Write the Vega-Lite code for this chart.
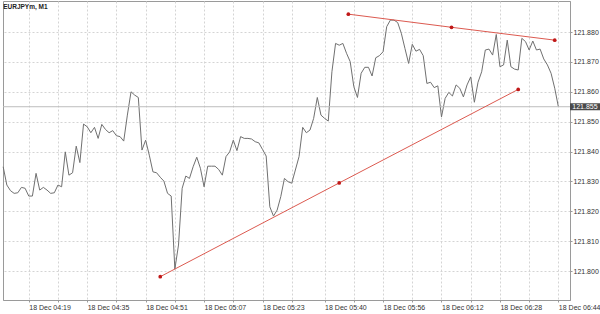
{
  "$schema": "https://vega.github.io/schema/vega-lite/v6.json",
  "width": 567,
  "height": 299,
  "autosize": {"type": "none"},
  "padding": {"left": 3, "top": 1, "right": 30, "bottom": 14},
  "background": "white",
  "config": {
    "view": {"stroke": "#9a9a9a", "strokeWidth": 1},
    "font": "Liberation Sans"
  },
  "title": {"text": "EURJPYm, M1", "anchor": "start", "orient": "top", "offset": -9, "baseline": "top", "dx": 2, "fontSize": 6.5, "fontWeight": "bold", "color": "#222", "font": "Liberation Sans"},
  "datasets": {
    "price": [
      {"t": "2019-12-18T04:12:00", "p": 121.8349},
      {"t": "2019-12-18T04:13:00", "p": 121.8288},
      {"t": "2019-12-18T04:14:00", "p": 121.8269},
      {"t": "2019-12-18T04:15:00", "p": 121.8260},
      {"t": "2019-12-18T04:16:00", "p": 121.8262},
      {"t": "2019-12-18T04:17:00", "p": 121.8280},
      {"t": "2019-12-18T04:18:00", "p": 121.8277},
      {"t": "2019-12-18T04:19:00", "p": 121.8251},
      {"t": "2019-12-18T04:20:00", "p": 121.8251},
      {"t": "2019-12-18T04:21:00", "p": 121.8327},
      {"t": "2019-12-18T04:22:00", "p": 121.8271},
      {"t": "2019-12-18T04:23:00", "p": 121.8280},
      {"t": "2019-12-18T04:24:00", "p": 121.8271},
      {"t": "2019-12-18T04:25:00", "p": 121.8260},
      {"t": "2019-12-18T04:26:00", "p": 121.8262},
      {"t": "2019-12-18T04:27:00", "p": 121.8288},
      {"t": "2019-12-18T04:28:00", "p": 121.8282},
      {"t": "2019-12-18T04:29:00", "p": 121.8399},
      {"t": "2019-12-18T04:30:00", "p": 121.8321},
      {"t": "2019-12-18T04:31:00", "p": 121.8329},
      {"t": "2019-12-18T04:32:00", "p": 121.8418},
      {"t": "2019-12-18T04:33:00", "p": 121.8363},
      {"t": "2019-12-18T04:34:00", "p": 121.8492},
      {"t": "2019-12-18T04:35:00", "p": 121.8483},
      {"t": "2019-12-18T04:36:00", "p": 121.8463},
      {"t": "2019-12-18T04:37:00", "p": 121.8481},
      {"t": "2019-12-18T04:38:00", "p": 121.8444},
      {"t": "2019-12-18T04:39:00", "p": 121.8491},
      {"t": "2019-12-18T04:40:00", "p": 121.8474},
      {"t": "2019-12-18T04:41:00", "p": 121.8463},
      {"t": "2019-12-18T04:42:00", "p": 121.8470},
      {"t": "2019-12-18T04:43:00", "p": 121.8453},
      {"t": "2019-12-18T04:44:00", "p": 121.8450},
      {"t": "2019-12-18T04:45:00", "p": 121.8435},
      {"t": "2019-12-18T04:46:00", "p": 121.8522},
      {"t": "2019-12-18T04:47:00", "p": 121.8600},
      {"t": "2019-12-18T04:48:00", "p": 121.8589},
      {"t": "2019-12-18T04:49:00", "p": 121.8581},
      {"t": "2019-12-18T04:50:00", "p": 121.8405},
      {"t": "2019-12-18T04:51:00", "p": 121.8438},
      {"t": "2019-12-18T04:52:00", "p": 121.8388},
      {"t": "2019-12-18T04:53:00", "p": 121.8332},
      {"t": "2019-12-18T04:54:00", "p": 121.8329},
      {"t": "2019-12-18T04:55:00", "p": 121.8314},
      {"t": "2019-12-18T04:56:00", "p": 121.8301},
      {"t": "2019-12-18T04:57:00", "p": 121.8260},
      {"t": "2019-12-18T04:58:00", "p": 121.8251},
      {"t": "2019-12-18T04:59:00", "p": 121.8006},
      {"t": "2019-12-18T05:00:00", "p": 121.8087},
      {"t": "2019-12-18T05:01:00", "p": 121.8277},
      {"t": "2019-12-18T05:02:00", "p": 121.8318},
      {"t": "2019-12-18T05:03:00", "p": 121.8310},
      {"t": "2019-12-18T05:04:00", "p": 121.8349},
      {"t": "2019-12-18T05:05:00", "p": 121.8381},
      {"t": "2019-12-18T05:06:00", "p": 121.8344},
      {"t": "2019-12-18T05:07:00", "p": 121.8282},
      {"t": "2019-12-18T05:08:00", "p": 121.8351},
      {"t": "2019-12-18T05:09:00", "p": 121.8351},
      {"t": "2019-12-18T05:10:00", "p": 121.8351},
      {"t": "2019-12-18T05:11:00", "p": 121.8340},
      {"t": "2019-12-18T05:12:00", "p": 121.8321},
      {"t": "2019-12-18T05:13:00", "p": 121.8383},
      {"t": "2019-12-18T05:14:00", "p": 121.8399},
      {"t": "2019-12-18T05:15:00", "p": 121.8438},
      {"t": "2019-12-18T05:16:00", "p": 121.8403},
      {"t": "2019-12-18T05:17:00", "p": 121.8450},
      {"t": "2019-12-18T05:18:00", "p": 121.8444},
      {"t": "2019-12-18T05:19:00", "p": 121.8444},
      {"t": "2019-12-18T05:20:00", "p": 121.8442},
      {"t": "2019-12-18T05:21:00", "p": 121.8433},
      {"t": "2019-12-18T05:22:00", "p": 121.8429},
      {"t": "2019-12-18T05:23:00", "p": 121.8407},
      {"t": "2019-12-18T05:24:00", "p": 121.8385},
      {"t": "2019-12-18T05:25:00", "p": 121.8215},
      {"t": "2019-12-18T05:26:00", "p": 121.8184},
      {"t": "2019-12-18T05:27:00", "p": 121.8204},
      {"t": "2019-12-18T05:28:00", "p": 121.8249},
      {"t": "2019-12-18T05:29:00", "p": 121.8310},
      {"t": "2019-12-18T05:30:00", "p": 121.8299},
      {"t": "2019-12-18T05:31:00", "p": 121.8294},
      {"t": "2019-12-18T05:33:00", "p": 121.8383},
      {"t": "2019-12-18T05:34:00", "p": 121.8481},
      {"t": "2019-12-18T05:35:00", "p": 121.8463},
      {"t": "2019-12-18T05:36:00", "p": 121.8472},
      {"t": "2019-12-18T05:37:00", "p": 121.8511},
      {"t": "2019-12-18T05:38:00", "p": 121.8581},
      {"t": "2019-12-18T05:39:00", "p": 121.8522},
      {"t": "2019-12-18T05:40:00", "p": 121.8511},
      {"t": "2019-12-18T05:41:00", "p": 121.8502},
      {"t": "2019-12-18T05:42:00", "p": 121.8667},
      {"t": "2019-12-18T05:43:00", "p": 121.8762},
      {"t": "2019-12-18T05:44:00", "p": 121.8756},
      {"t": "2019-12-18T05:45:00", "p": 121.8762},
      {"t": "2019-12-18T05:46:00", "p": 121.8729},
      {"t": "2019-12-18T05:47:00", "p": 121.8701},
      {"t": "2019-12-18T05:48:00", "p": 121.8617},
      {"t": "2019-12-18T05:49:00", "p": 121.8581},
      {"t": "2019-12-18T05:50:00", "p": 121.8662},
      {"t": "2019-12-18T05:51:00", "p": 121.8682},
      {"t": "2019-12-18T05:52:00", "p": 121.8682},
      {"t": "2019-12-18T05:53:00", "p": 121.8653},
      {"t": "2019-12-18T05:54:00", "p": 121.8714},
      {"t": "2019-12-18T05:55:00", "p": 121.8721},
      {"t": "2019-12-18T05:56:00", "p": 121.8734},
      {"t": "2019-12-18T05:57:00", "p": 121.8818},
      {"t": "2019-12-18T05:58:00", "p": 121.8840},
      {"t": "2019-12-18T05:59:00", "p": 121.8840},
      {"t": "2019-12-18T06:00:00", "p": 121.8832},
      {"t": "2019-12-18T06:01:00", "p": 121.8796},
      {"t": "2019-12-18T06:02:00", "p": 121.8745},
      {"t": "2019-12-18T06:03:00", "p": 121.8695},
      {"t": "2019-12-18T06:04:00", "p": 121.8759},
      {"t": "2019-12-18T06:05:00", "p": 121.8736},
      {"t": "2019-12-18T06:06:00", "p": 121.8742},
      {"t": "2019-12-18T06:07:00", "p": 121.8721},
      {"t": "2019-12-18T06:08:00", "p": 121.8628},
      {"t": "2019-12-18T06:09:00", "p": 121.8632},
      {"t": "2019-12-18T06:10:00", "p": 121.8614},
      {"t": "2019-12-18T06:11:00", "p": 121.8620},
      {"t": "2019-12-18T06:12:00", "p": 121.8516},
      {"t": "2019-12-18T06:13:00", "p": 121.8578},
      {"t": "2019-12-18T06:14:00", "p": 121.8598},
      {"t": "2019-12-18T06:15:00", "p": 121.8586},
      {"t": "2019-12-18T06:16:00", "p": 121.8623},
      {"t": "2019-12-18T06:17:00", "p": 121.8612},
      {"t": "2019-12-18T06:18:00", "p": 121.8583},
      {"t": "2019-12-18T06:19:00", "p": 121.8623},
      {"t": "2019-12-18T06:20:00", "p": 121.8650},
      {"t": "2019-12-18T06:21:00", "p": 121.8565},
      {"t": "2019-12-18T06:22:00", "p": 121.8632},
      {"t": "2019-12-18T06:23:00", "p": 121.8667},
      {"t": "2019-12-18T06:24:00", "p": 121.8740},
      {"t": "2019-12-18T06:25:00", "p": 121.8743},
      {"t": "2019-12-18T06:26:00", "p": 121.8723},
      {"t": "2019-12-18T06:27:00", "p": 121.8792},
      {"t": "2019-12-18T06:28:00", "p": 121.8684},
      {"t": "2019-12-18T06:29:00", "p": 121.8690},
      {"t": "2019-12-18T06:30:00", "p": 121.8773},
      {"t": "2019-12-18T06:31:00", "p": 121.8684},
      {"t": "2019-12-18T06:32:00", "p": 121.8676},
      {"t": "2019-12-18T06:33:00", "p": 121.8673},
      {"t": "2019-12-18T06:34:00", "p": 121.8779},
      {"t": "2019-12-18T06:35:00", "p": 121.8768},
      {"t": "2019-12-18T06:36:00", "p": 121.8740},
      {"t": "2019-12-18T06:37:00", "p": 121.8770},
      {"t": "2019-12-18T06:38:00", "p": 121.8740},
      {"t": "2019-12-18T06:39:00", "p": 121.8743},
      {"t": "2019-12-18T06:40:00", "p": 121.8710},
      {"t": "2019-12-18T06:41:00", "p": 121.8690},
      {"t": "2019-12-18T06:42:00", "p": 121.8662},
      {"t": "2019-12-18T06:43:00", "p": 121.8612},
      {"t": "2019-12-18T06:44:00", "p": 121.8550}
    ],
    "trend": [
      {"line": "lower", "t": "2019-12-18T04:55:00", "p": 121.7981},
      {"line": "lower", "t": "2019-12-18T05:44:00", "p": 121.8295},
      {"line": "lower", "t": "2019-12-18T06:33:00", "p": 121.8608},
      {"line": "upper", "t": "2019-12-18T05:46:30", "p": 121.8860},
      {"line": "upper", "t": "2019-12-18T06:14:45", "p": 121.8816},
      {"line": "upper", "t": "2019-12-18T06:43:00", "p": 121.8773}
    ],
    "bidline": [
      {"t": "2019-12-18T04:11:57", "t2": "2019-12-18T06:47:11", "p": 121.855}
    ],
    "bidbox": [
      {"t": "2019-12-18T06:47:11", "t2": "2019-12-18T06:56:00", "p": 121.8538, "p2": 121.8562}
    ],
    "bidlabel": [
      {"t": "2019-12-18T06:51:17", "p": 121.855, "label": "121.855"}
    ]
  },
  "encoding": {
    "x": {
      "field": "t", "type": "temporal", "title": null,
      "scale": {"domain": [{"year": 2019, "month": 12, "date": 18, "hours": 4, "minutes": 11, "seconds": 57}, {"year": 2019, "month": 12, "date": 18, "hours": 6, "minutes": 47, "seconds": 11}]},
      "axis": {
        "title": null,
        "values": [
          {"year": 2019, "month": 12, "date": 18, "hours": 4, "minutes": 19},
          {"year": 2019, "month": 12, "date": 18, "hours": 4, "minutes": 27},
          {"year": 2019, "month": 12, "date": 18, "hours": 4, "minutes": 35},
          {"year": 2019, "month": 12, "date": 18, "hours": 4, "minutes": 43},
          {"year": 2019, "month": 12, "date": 18, "hours": 4, "minutes": 51},
          {"year": 2019, "month": 12, "date": 18, "hours": 4, "minutes": 59},
          {"year": 2019, "month": 12, "date": 18, "hours": 5, "minutes": 7},
          {"year": 2019, "month": 12, "date": 18, "hours": 5, "minutes": 15},
          {"year": 2019, "month": 12, "date": 18, "hours": 5, "minutes": 23},
          {"year": 2019, "month": 12, "date": 18, "hours": 5, "minutes": 31},
          {"year": 2019, "month": 12, "date": 18, "hours": 5, "minutes": 40},
          {"year": 2019, "month": 12, "date": 18, "hours": 5, "minutes": 48},
          {"year": 2019, "month": 12, "date": 18, "hours": 5, "minutes": 56},
          {"year": 2019, "month": 12, "date": 18, "hours": 6, "minutes": 4},
          {"year": 2019, "month": 12, "date": 18, "hours": 6, "minutes": 12},
          {"year": 2019, "month": 12, "date": 18, "hours": 6, "minutes": 20},
          {"year": 2019, "month": 12, "date": 18, "hours": 6, "minutes": 28},
          {"year": 2019, "month": 12, "date": 18, "hours": 6, "minutes": 36},
          {"year": 2019, "month": 12, "date": 18, "hours": 6, "minutes": 44}
        ],
        "labelExpr": "indexof([19,35,51,7,23,40,56,12,28,44], minutes(datum.value)) >= 0 ? '18 Dec ' + timeFormat(datum.value, '%H:%M') : ''",
        "grid": true, "gridDash": [2, 2], "gridColor": "#d4d4d4", "gridWidth": 1,
        "domainColor": "#9a9a9a", "tickColor": "#9a9a9a", "tickSize": 2,
        "labelAlign": "left", "labelBaseline": "top", "labelPadding": 1,
        "labelFontSize": 7, "labelColor": "#333333", "labelFont": "Liberation Sans",
        "labelFlush": false, "labelOverlap": false, "labelBound": false
      }
    },
    "y": {
      "field": "p", "type": "quantitative", "title": null,
      "scale": {"domain": [121.7903, 121.8904], "zero": false, "nice": false},
      "axis": {
        "title": null, "orient": "right",
        "values": [121.80, 121.81, 121.82, 121.83, 121.84, 121.85, 121.86, 121.87, 121.88],
        "labelExpr": "format(datum.value, '.3f')",
        "grid": true, "gridDash": [2, 2], "gridColor": "#d4d4d4", "gridWidth": 1,
        "domainColor": "#9a9a9a", "tickColor": "#9a9a9a", "tickSize": 2,
        "labelPadding": 1, "labelFontSize": 7, "labelColor": "#333333", "labelFont": "Liberation Sans",
        "labelBaseline": "middle", "labelFlush": false, "labelOverlap": false, "labelBound": false
      }
    }
  },
  "layer": [
    {
      "data": {"name": "price"},
      "mark": {"type": "line", "color": "#707070", "strokeWidth": 1}
    },
    {
      "data": {"name": "bidline"},
      "mark": {"type": "rule", "color": "#bdbdbd", "strokeWidth": 1},
      "encoding": {"x2": {"field": "t2"}}
    },
    {
      "data": {"name": "trend"},
      "mark": {"type": "line", "color": "#dc5a50", "strokeWidth": 1},
      "encoding": {"detail": {"field": "line"}}
    },
    {
      "data": {"name": "trend"},
      "mark": {"type": "circle", "color": "#c01818", "size": 14, "opacity": 1}
    },
    {
      "data": {"name": "bidbox"},
      "mark": {"type": "rect", "color": "#4a4a4a", "clip": false},
      "encoding": {"x2": {"field": "t2"}, "y2": {"field": "p2"}}
    },
    {
      "data": {"name": "bidlabel"},
      "mark": {"type": "text", "color": "white", "fontSize": 7, "font": "Liberation Sans", "align": "center", "baseline": "middle", "clip": false},
      "encoding": {"text": {"field": "label"}}
    }
  ]
}
